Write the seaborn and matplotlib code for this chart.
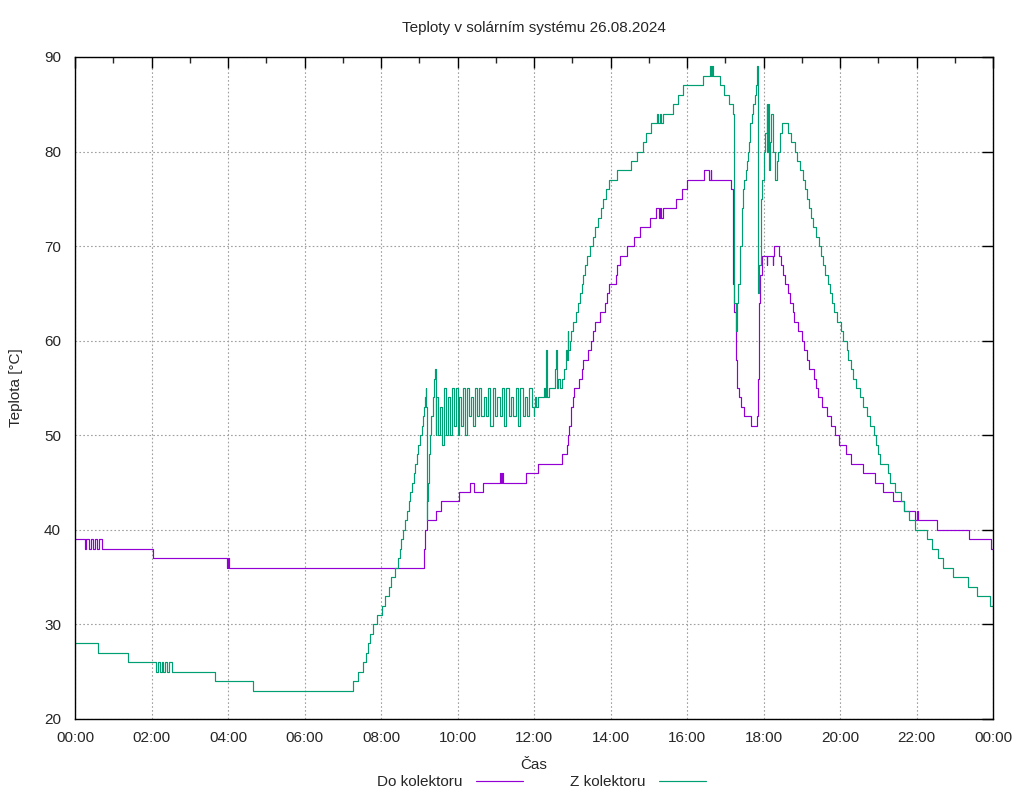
import pandas as pd
import matplotlib
import matplotlib.pyplot as plt
from matplotlib.ticker import MultipleLocator
from matplotlib.lines import Line2D
import seaborn as sns

matplotlib.use("Agg")

# Hours since midnight (step changes) and temperatures in °C
do_time = [0.00, 0.26, 0.30, 0.36, 0.41, 0.47, 0.52, 0.58, 0.63, 0.70,
           2.05, 3.98, 4.01, 4.03, 9.13, 9.16, 9.19, 9.44, 9.56, 10.05, 10.33, 10.43,
           10.67, 11.11, 11.14, 11.17, 11.20, 11.78, 12.10, 12.74, 12.87, 12.90, 12.92,
           12.96, 12.98, 13.01, 13.05, 13.18, 13.25, 13.29, 13.42, 13.48, 13.53, 13.59,
           13.73, 13.86, 13.92, 13.97, 14.14, 14.18, 14.25, 14.42, 14.62, 14.77, 15.03,
           15.19, 15.26, 15.29, 15.33, 15.36, 15.71, 15.88, 16.01, 16.44, 16.58, 16.62,
           16.64, 16.67, 17.14, 17.21, 17.24, 17.28, 17.30, 17.32, 17.37, 17.40, 17.50,
           17.67, 17.82, 17.86, 17.88, 17.91, 17.95, 18.08, 18.10, 18.24, 18.26, 18.28,
           18.41, 18.46, 18.52, 18.56, 18.64, 18.70, 18.76, 18.81, 18.91, 19.00, 19.07,
           19.13, 19.19, 19.33, 19.37, 19.42, 19.52, 19.67, 19.77, 19.87, 19.98, 20.16,
           20.29, 20.61, 20.92, 21.13, 21.39, 21.67, 21.96, 22.00, 22.03, 22.53, 23.37,
           23.95, 24.00]
do_temp = [39, 38, 39, 38, 39, 38, 39, 38, 39, 38,
           37, 36, 37, 36, 38, 40, 41, 42, 43, 44, 45, 44,
           45, 46, 45, 46, 45, 46, 47, 48, 49, 50, 51,
           52, 53, 54, 55, 56, 57, 58, 59, 60, 61, 62,
           63, 64, 65, 66, 67, 68, 69, 70, 71, 72, 73,
           74, 73, 74, 73, 74, 75, 76, 77, 78, 77,
           78, 77, 77, 76, 66, 63, 58, 57, 55, 54, 53, 52,
           51, 52, 56, 64, 67, 69, 68, 69, 68, 69, 70,
           69, 68, 67, 66, 65, 64, 63, 62, 61, 60, 59,
           58, 57, 56, 55, 54, 53, 52, 51, 50, 49, 48,
           47, 46, 45, 44, 43, 42, 41, 42, 41, 40, 39,
           38, 38]

z_time = [0.00, 0.61, 1.38, 2.13, 2.17, 2.21, 2.27, 2.30, 2.36, 2.40, 2.45, 2.53,
          3.67, 4.65, 7.26, 7.39, 7.54, 7.60, 7.65, 7.70, 7.78, 7.90, 8.02, 8.10,
          8.20, 8.27, 8.36, 8.45, 8.50, 8.52, 8.58, 8.62, 8.67, 8.72, 8.76, 8.82,
          8.85, 8.89, 8.93, 8.97, 9.02, 9.06, 9.10, 9.13, 9.15, 9.17, 9.18, 9.19,
          9.21, 9.23, 9.26, 9.29, 9.32, 9.35, 9.38, 9.41, 9.43,
          9.45, 9.50, 9.55, 9.60, 9.65, 9.70, 9.75, 9.80, 9.85, 9.90, 9.95, 10.00,
          10.05, 10.10, 10.15, 10.20, 10.25, 10.30, 10.35, 10.40, 10.45, 10.50,
          10.56, 10.62, 10.68, 10.74, 10.80, 10.86, 10.92, 10.98, 11.04, 11.10,
          11.16, 11.22, 11.28, 11.34, 11.40, 11.46, 11.52, 11.58, 11.64, 11.70,
          11.76, 11.82, 11.88, 11.94, 11.99, 12.01, 12.03, 12.06, 12.11, 12.26,
          12.28, 12.31, 12.33, 12.40, 12.55, 12.57, 12.59, 12.64, 12.68, 12.72,
          12.79, 12.84, 12.85, 12.88, 12.90, 12.94, 12.98, 13.03, 13.10, 13.16,
          13.20, 13.25, 13.29, 13.33, 13.38, 13.46, 13.53, 13.59, 13.68, 13.75,
          13.81, 13.88, 13.97, 14.18, 14.53, 14.68, 14.84, 14.93, 15.05, 15.21,
          15.25, 15.29, 15.33, 15.36, 15.42, 15.64, 15.77, 15.90, 16.43, 16.60,
          16.64, 16.66, 16.69, 16.86, 16.97, 17.11, 17.19, 17.21, 17.24, 17.28,
          17.32, 17.34, 17.39, 17.43, 17.46, 17.50, 17.54, 17.58, 17.60, 17.63,
          17.66, 17.69, 17.73, 17.78, 17.80, 17.82, 17.84, 17.85, 17.89, 17.93,
          17.95, 18.00, 18.04, 18.08, 18.10, 18.13, 18.14, 18.17, 18.20, 18.25,
          18.30, 18.35, 18.39, 18.43, 18.49, 18.65, 18.71, 18.82, 18.87, 18.95,
          19.02, 19.08, 19.13, 19.19, 19.23, 19.30, 19.37, 19.45, 19.50, 19.56,
          19.61, 19.69, 19.74, 19.80, 19.85, 19.93, 20.02, 20.09, 20.17, 20.22,
          20.28, 20.33, 20.42, 20.52, 20.61, 20.70, 20.78, 20.90, 20.93, 20.99,
          21.05, 21.25, 21.31, 21.44, 21.59, 21.68, 21.80, 21.96, 22.27, 22.40,
          22.57, 22.70, 22.96, 23.35, 23.59, 23.92, 24.00]
z_temp = [28, 27, 26, 25, 26, 25, 26, 25, 26, 25, 26, 25,
          24, 23, 24, 25, 26, 27, 28, 29, 30, 31, 32, 33,
          34, 35, 36, 37, 38, 39, 40, 41, 42, 43, 44, 45,
          46, 47, 48, 49, 50, 51, 52, 53, 54, 55, 53, 41,
          43, 45, 48, 50, 52, 54, 56, 57, 50,
          54, 50, 53, 49, 55, 50, 54, 50, 55, 51, 55, 50,
          54, 51, 55, 50, 55, 52, 54, 51, 55, 52,
          55, 52, 54, 52, 55, 51, 55, 52, 54, 52,
          55, 51, 55, 52, 54, 52, 55, 51, 55, 52,
          54, 52, 55, 53, 52, 53, 54, 53, 54, 55,
          54, 59, 54, 55, 57, 59, 55, 56, 55, 56,
          57, 59, 58, 61, 59, 60, 61, 62, 63, 64,
          65, 66, 67, 68, 69, 70, 71, 72, 73, 74,
          75, 76, 77, 78, 79, 80, 81, 82, 83, 84,
          83, 84, 83, 84, 84, 85, 86, 87, 88, 89,
          88, 89, 88, 87, 86, 85, 84, 84, 64, 61,
          64, 66, 70, 74, 76, 77, 78, 79, 80, 81,
          83, 84, 85, 86, 87, 88, 89, 65, 68, 75,
          77, 80, 82, 85, 80, 85, 78, 81, 84, 80,
          77, 79, 80, 82, 83, 82, 81, 80, 79, 78,
          77, 76, 75, 74, 73, 72, 71, 70, 69, 68,
          67, 66, 65, 64, 63, 62, 61, 60, 59, 58,
          57, 56, 55, 54, 53, 52, 51, 50, 49, 48,
          47, 46, 45, 44, 43, 42, 41, 40, 39, 38,
          37, 36, 35, 34, 33, 32, 32]

series_names = ["Do kolektoru", "Z kolektoru"]
series_colors = {"Do kolektoru": "#9400d3", "Z kolektoru": "#009e73"}
tick_hours = [0, 2, 4, 6, 8, 10, 12, 14, 16, 18, 20, 22, 24]
tick_labels = ["00:00", "02:00", "04:00", "06:00", "08:00", "10:00", "12:00",
               "14:00", "16:00", "18:00", "20:00", "22:00", "00:00"]

df = pd.concat([
    pd.DataFrame({"time": do_time, "temp": do_temp, "series": series_names[0]}),
    pd.DataFrame({"time": z_time, "temp": z_temp, "series": series_names[1]}),
], ignore_index=True)

sns.set_style("white")
plt.rcParams["font.family"] = ["Liberation Sans", "DejaVu Sans"]
plt.rcParams["font.size"] = 11

fig = plt.figure(figsize=(10.24, 8), dpi=100)
ax = fig.add_axes([75 / 1024, 81 / 800, 918 / 1024, 662 / 800])

sns.lineplot(data=df, x="time", y="temp", hue="series", palette=series_colors,
             estimator=None, sort=False, drawstyle="steps-post", linewidth=0.85,
             legend=False, ax=ax)

ax.set_xlim(0, 24)
ax.set_ylim(20, 90)
ax.set_xticks(tick_hours)
ax.set_xticklabels(tick_labels)
ax.xaxis.set_minor_locator(MultipleLocator(1))
ax.yaxis.set_major_locator(MultipleLocator(10))

ax.grid(True, which="major", linestyle=(0, (1.5, 2)), color="#a0a0a0", linewidth=0.8)
for s in ax.spines.values():
    s.set_color("black")
    s.set_linewidth(1.0)
ax.tick_params(which="major", direction="in", top=True, right=True,
               length=8, width=1, labelsize=11, color="black")
ax.tick_params(axis="x", which="major", pad=9)
ax.tick_params(axis="y", which="major", pad=10)
ax.tick_params(which="minor", direction="in", top=True, right=True, length=4, width=1)

ax.set_xlabel("Čas", fontsize=11)
ax.set_ylabel("Teplota [°C]", fontsize=11)
ax.xaxis.set_label_coords(0.5, -0.059)
ax.yaxis.set_label_coords(-0.057, 0.5)

fig.text(534 / 1024, 1 - 28 / 800, "Teploty v solárním systému 26.08.2024",
         ha="center", va="center", fontsize=11)

handles = [Line2D([], [], color=series_colors[n], linewidth=0.85) for n in series_names]
fig.legend(handles, series_names, loc="center", bbox_to_anchor=(0.529, 1 - 782 / 800),
           ncol=2, markerfirst=False, frameon=False, fontsize=11,
           handlelength=3.1, handletextpad=0.85, columnspacing=3.1)

fig.savefig("out.png", dpi=100)
